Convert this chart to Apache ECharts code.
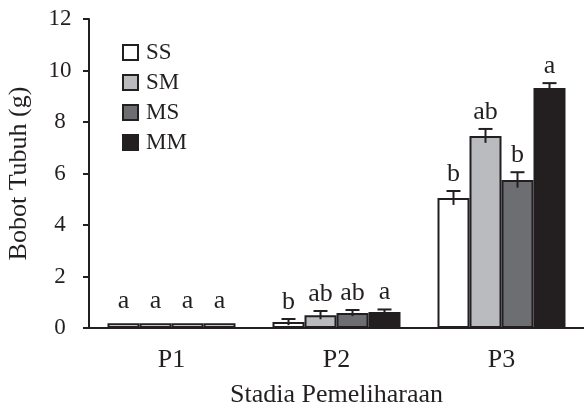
<!DOCTYPE html>
<html><head><meta charset="utf-8">
<script src="https://cdn.jsdelivr.net/npm/echarts@6/dist/echarts.min.js"></script>
<style>html,body{margin:0;padding:0;background:#fff}#c{width:584px;height:410px}</style>
</head><body><div id="c"></div>
<script>
var categories = ['P1', 'P2', 'P3'];
var seriesNames = ['SS', 'SM', 'MS', 'MM'];
var valSS = [0.18, 0.23, 5.05];
var valSM = [0.18, 0.50, 7.46];
var valMS = [0.18, 0.58, 5.75];
var valMM = [0.18, 0.62, 9.32];
var errSS = [0, 0.12, 0.27];
var errSM = [0, 0.16, 0.27];
var errMS = [0, 0.12, 0.30];
var errMM = [0, 0.10, 0.19];
var letSS = ['a', 'b', 'b'];
var letSM = ['a', 'ab', 'ab'];
var letMS = ['a', 'ab', 'b'];
var letMM = ['a', 'a', 'a'];
var yTicks = [0, 2, 4, 6, 8, 10, 12];

var vals = [valSS, valSM, valMS, valMM];
var errs = [errSS, errSM, errMS, errMM];
var lets = [letSS, letSM, letMS, letMM];
var colors = ['#ffffff', '#b9bbbe', '#6d6e71', '#231f20'];
var INK = '#231f20';
var FONT = 'Liberation Serif';
var BW = 32;

var series = [];
seriesNames.forEach(function (n, i) {
  series.push({
    name: n, type: 'bar', barWidth: BW, barGap: '0%',
    data: vals[i].map(function (v, k) {
      // P1 bars are so short that only their outline shows in the reference
      return k === 0 ? { value: v, itemStyle: { color: '#ffffff' } } : v;
    }),
    itemStyle: { color: colors[i], borderColor: INK, borderWidth: 2 },
    z: 2
  });
});
seriesNames.forEach(function (n, i) {
  var d = categories.map(function (c, k) { return [k, vals[i][k], errs[i][k], lets[i][k]]; });
  series.push({
    type: 'custom', data: d, z: 5, silent: true,
    renderItem: function (params, api) {
      var k = api.value(0), v = api.value(1), e = api.value(2);
      var base = api.coord([k, v]);
      var x = base[0] + (i - 1.5) * BW;
      var top = api.coord([k, v + e]);
      var bot = api.coord([k, v - e]);
      var children = [];
      if (e > 0) {
        children.push({ type: 'line', shape: { x1: x, y1: top[1], x2: x, y2: bot[1] }, style: { stroke: INK, lineWidth: 2 } });
        children.push({ type: 'line', shape: { x1: x - 7, y1: top[1], x2: x + 7, y2: top[1] }, style: { stroke: INK, lineWidth: 2 } });
      }
      var gap = e > 0 ? 4 : 9;
      children.push({ type: 'text', style: { text: d[k][3], x: x, y: top[1] - gap, align: 'center', verticalAlign: 'bottom', font: '26px "' + FONT + '"', fill: INK } });
      return { type: 'group', children: children };
    }
  });
});

var chart = echarts.init(document.getElementById('c'));
chart.setOption({
  animation: false,
  textStyle: { fontFamily: FONT, color: INK },
  legend: {
    data: seriesNames, orient: 'vertical', left: 117, top: 36,
    icon: 'rect', itemWidth: 15, itemHeight: 15, itemGap: 7,
    textStyle: { fontFamily: FONT, fontSize: 23, color: INK, padding: [0, 0, 0, 3] },
    itemStyle: { borderColor: INK, borderWidth: 2 }
  },
  grid: { left: 89, top: 19, width: 495, bottom: 82, containLabel: false, outerBoundsMode: 'none' },
  xAxis: {
    type: 'category', data: categories,
    name: 'Stadia Pemeliharaan', nameLocation: 'middle', nameGap: 54,
    nameTextStyle: { fontFamily: FONT, fontSize: 26, color: INK },
    axisLine: { lineStyle: { color: INK, width: 2 } },
    axisTick: { show: false },
    axisLabel: { fontFamily: FONT, fontSize: 26, color: INK, margin: 19 }
  },
  yAxis: {
    type: 'value', min: 0, max: 12, interval: 2,
    name: 'Bobot Tubuh (g)', nameLocation: 'middle', nameGap: 57, nameRotate: 90,
    nameTextStyle: { fontFamily: FONT, fontSize: 26, color: INK },
    axisLine: { show: true, lineStyle: { color: INK, width: 2 } },
    axisTick: { show: true, length: 6, lineStyle: { color: INK, width: 2 } },
    axisLabel: { fontFamily: FONT, fontSize: 23, color: INK, margin: 29, align: 'center',
      formatter: function (v) { return yTicks.indexOf(v) >= 0 ? String(v) : ''; } },
    splitLine: { show: false }
  },
  series: series
});
</script></body></html>
